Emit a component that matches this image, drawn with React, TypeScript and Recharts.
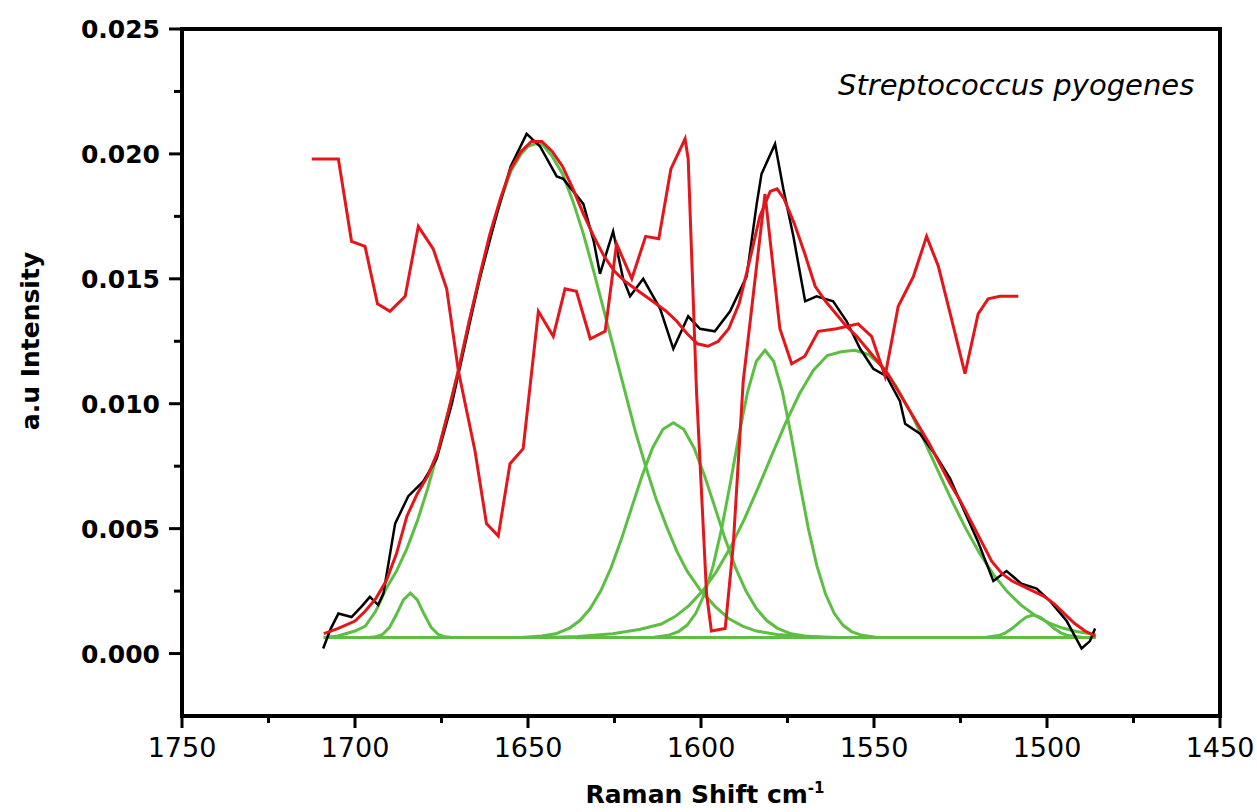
import { LineChart, Line, XAxis, YAxis, ReferenceArea } from 'recharts';

type Pt = [number, number];

// x = Raman shift (cm-1), y = intensity (a.u.)
const rawSpectrum: Pt[] = [
  [1709.2, 0.0002], [1707, 0.001], [1704.8, 0.0016], [1701, 0.00146], [1698, 0.0019],
  [1695.7, 0.00227], [1693.3, 0.00195], [1691.8, 0.0024], [1688.4, 0.0052], [1684.6, 0.0063],
  [1680.2, 0.0069], [1676.4, 0.0078], [1672, 0.01], [1668, 0.0125], [1664, 0.015],
  [1659, 0.0176], [1655, 0.0195], [1650.4, 0.0208], [1646.5, 0.0203], [1641.7, 0.0191],
  [1639.8, 0.019], [1634, 0.018], [1631, 0.0165], [1629.2, 0.0152], [1625.4, 0.0169],
  [1622.5, 0.015], [1620.5, 0.0143], [1616.7, 0.015], [1611.8, 0.0138], [1608, 0.0122],
  [1603.7, 0.0135], [1600.3, 0.013], [1596, 0.0129], [1591.6, 0.0137], [1586.8, 0.0151],
  [1583.9, 0.018], [1582.5, 0.0192], [1578.6, 0.0204], [1576.2, 0.0186], [1573.3, 0.0167],
  [1569.9, 0.0141], [1566.6, 0.0143], [1561.8, 0.0141], [1557.9, 0.0133], [1554, 0.0122],
  [1550.2, 0.0114], [1546.4, 0.0111], [1542.5, 0.0101], [1541, 0.0092], [1536.7, 0.0088],
  [1532, 0.0079], [1528, 0.007], [1524.2, 0.0058], [1520, 0.0045], [1515.5, 0.0029],
  [1511.7, 0.0033], [1507.4, 0.0028], [1503, 0.0026], [1499.1, 0.0021], [1494.3, 0.0013],
  [1490, 0.0002], [1487.6, 0.0005], [1486.1, 0.001],
];

const fitCurve: Pt[] = [
  [1709, 0.0008], [1705, 0.001], [1700, 0.0013], [1697, 0.0017], [1694, 0.0022],
  [1691, 0.0029], [1688, 0.004], [1685, 0.0055], [1682, 0.0064], [1679, 0.0071],
  [1676, 0.0081], [1673, 0.0097], [1670, 0.0114], [1667, 0.0133], [1664, 0.0151],
  [1661, 0.0168], [1658, 0.0182], [1655, 0.0194], [1652, 0.0201], [1649, 0.0205],
  [1646, 0.0205], [1643, 0.0201], [1640, 0.0195], [1637, 0.0186], [1634, 0.0176],
  [1631, 0.0167], [1628, 0.0159], [1625, 0.0153], [1622, 0.0149], [1619, 0.0146],
  [1616, 0.0143], [1613, 0.014], [1610, 0.0137], [1607, 0.0133], [1604, 0.0128],
  [1601, 0.0124], [1598, 0.0123], [1595, 0.0125], [1592, 0.013], [1589, 0.014],
  [1586, 0.0157], [1583, 0.0175], [1580, 0.0185], [1578, 0.0186], [1576, 0.0182],
  [1573, 0.0172], [1570, 0.016], [1567, 0.0147], [1564, 0.0141], [1561, 0.0136],
  [1558, 0.0131], [1555, 0.0127], [1552, 0.0122], [1549, 0.0117], [1546, 0.0112],
  [1543, 0.0105], [1540, 0.0098], [1537, 0.0091], [1534, 0.0084], [1531, 0.0076],
  [1528, 0.0068], [1525, 0.0061], [1522, 0.0053], [1519, 0.0045], [1516, 0.0037],
  [1513, 0.0032], [1510, 0.0029], [1507, 0.0027], [1504, 0.0025], [1501, 0.0023],
  [1498, 0.002], [1495, 0.0016], [1492, 0.0012], [1489, 0.0009], [1486, 0.0007],
];

const derivCurve: Pt[] = [
  [1712.5, 0.0198], [1704.8, 0.0198], [1701, 0.0165], [1697.1, 0.0163], [1693.5, 0.014],
  [1689.9, 0.0137], [1685.5, 0.0143], [1681.7, 0.0171], [1677.4, 0.0162], [1673.5, 0.0146],
  [1670.1, 0.0113], [1665.3, 0.0081], [1662, 0.0052], [1658.6, 0.0047], [1655.2, 0.0076],
  [1651.4, 0.0082], [1647, 0.0137], [1642.7, 0.0127], [1639.3, 0.0146], [1636, 0.0145],
  [1632, 0.0126], [1627.7, 0.0129], [1624.4, 0.0164], [1620, 0.015], [1616, 0.0167],
  [1612.2, 0.0166], [1608.7, 0.0194], [1604.6, 0.0206], [1603.7, 0.0198], [1601.3, 0.0105],
  [1598.4, 0.0024], [1597, 0.0009], [1593, 0.001], [1590.7, 0.0043], [1587.8, 0.0109],
  [1581.5, 0.0184], [1577.2, 0.013], [1573.8, 0.0116], [1570, 0.0119], [1566.1, 0.0129],
  [1560.8, 0.013], [1554.6, 0.0132], [1550.7, 0.0127], [1546.8, 0.0111], [1543, 0.0139],
  [1538.6, 0.0151], [1534.8, 0.0167], [1531.4, 0.0155], [1527.6, 0.0134], [1523.7, 0.0112],
  [1519.9, 0.0136], [1517, 0.0142], [1513.6, 0.0143], [1508.3, 0.0143],
];

// fitted component peaks (green)
const peak1684: Pt[] = [
  [1709, 0.00064], [1696, 0.00064], [1694, 0.00067], [1692, 0.00077], [1690, 0.00105],
  [1688, 0.00157], [1686, 0.00215], [1684, 0.00242], [1682, 0.00215], [1680, 0.00157],
  [1678, 0.00105], [1676, 0.00077], [1674, 0.00067], [1672, 0.00064], [1486, 0.00064],
];

const peak1648: Pt[] = [
  [1709, 0.00064], [1705, 0.0007], [1700, 0.0009], [1697, 0.0011], [1694, 0.0017],
  [1691, 0.0026], [1688, 0.0033], [1685, 0.0042], [1682, 0.0053], [1679, 0.0066],
  [1676, 0.0081], [1673, 0.0097], [1670, 0.0114], [1667, 0.0133], [1664, 0.015],
  [1661, 0.0167], [1658, 0.0181], [1655, 0.0193], [1652, 0.02], [1650, 0.0203],
  [1648, 0.0204], [1646, 0.0204], [1643, 0.0199], [1640, 0.0192], [1637, 0.0181],
  [1634, 0.0168], [1631, 0.0153], [1628, 0.0137], [1625, 0.0121], [1622, 0.0105],
  [1619, 0.0089], [1616, 0.0075], [1613, 0.0062], [1610, 0.0051], [1607, 0.0041],
  [1604, 0.0033], [1600, 0.0025], [1596, 0.0019], [1592, 0.0014], [1588, 0.0011],
  [1584, 0.0009], [1578, 0.00076], [1570, 0.00068], [1560, 0.00064], [1486, 0.00064],
];

const peak1608: Pt[] = [
  [1709, 0.00064], [1652, 0.00064], [1646, 0.0007], [1642, 0.00079], [1638, 0.00102],
  [1635, 0.00132], [1632, 0.0018], [1629, 0.0025], [1626, 0.00343], [1623, 0.00458],
  [1620, 0.00586], [1617, 0.00713], [1614, 0.00823], [1611, 0.00898], [1608, 0.00924],
  [1605, 0.00898], [1602, 0.00823], [1599, 0.00713], [1596, 0.00586], [1593, 0.00458],
  [1590, 0.00343], [1587, 0.0025], [1584, 0.0018], [1581, 0.00132], [1578, 0.00102],
  [1574, 0.00079], [1570, 0.0007], [1564, 0.00064], [1486, 0.00064],
];

const peak1582: Pt[] = [
  [1709, 0.00064], [1614, 0.00064], [1609.5, 0.00073], [1606.5, 0.00088], [1604, 0.00114],
  [1601.5, 0.00161], [1599, 0.00238], [1596.5, 0.00351], [1594, 0.00502], [1591.5, 0.00684],
  [1589, 0.00877], [1586.5, 0.0105], [1584, 0.0117], [1581.5, 0.01214], [1579, 0.0117],
  [1576.5, 0.0105], [1574, 0.00877], [1571.5, 0.00684], [1569, 0.00502], [1566.5, 0.00351],
  [1564, 0.00238], [1561.5, 0.00161], [1559, 0.00114], [1556.5, 0.00088], [1553.5, 0.00073],
  [1549, 0.00064], [1486, 0.00064],
];

const peak1556: Pt[] = [
  [1709, 0.00064], [1645, 0.00064], [1635.5, 0.00068], [1625.5, 0.00079], [1617.5, 0.00097],
  [1611.5, 0.00118], [1607.5, 0.00148], [1603.5, 0.00192], [1599.5, 0.00251], [1595.5, 0.00329],
  [1591.5, 0.00424], [1587.5, 0.00537], [1583.5, 0.00663], [1579.5, 0.00795], [1575.5, 0.00924],
  [1571.5, 0.01041], [1567.5, 0.01134], [1563.5, 0.01193], [1559.5, 0.01208], [1555.5, 0.01214],
  [1551.5, 0.01197], [1547.5, 0.01147], [1543.5, 0.01068], [1539.5, 0.00967], [1535.5, 0.00852],
  [1531.5, 0.00731], [1527.5, 0.00612], [1523.5, 0.00501], [1519.5, 0.00402], [1515.5, 0.00317],
  [1511.5, 0.00248], [1507.5, 0.00194], [1503.5, 0.00153], [1499.5, 0.00123], [1495.5, 0.00102],
  [1491.5, 0.00088], [1486, 0.00076],
];

const peak1504: Pt[] = [
  [1709, 0.00064], [1518, 0.00064], [1514, 0.00072], [1512, 0.00083], [1510, 0.00101],
  [1508, 0.00125], [1506, 0.00146], [1504, 0.00154], [1502, 0.00146], [1500, 0.00125],
  [1498, 0.00101], [1496, 0.00083], [1494, 0.00072], [1490, 0.00065], [1486, 0.00064],
];

const xTicks = [1450, 1475, 1500, 1525, 1550, 1575, 1600, 1625, 1650, 1675, 1700, 1725, 1750];
const yTicks = [0, 0.0025, 0.005, 0.0075, 0.01, 0.0125, 0.015, 0.0175, 0.02, 0.0225, 0.025];

const W = 1257;
const H = 812;
const MARGIN = { top: 29, right: 37, left: 0, bottom: 0 };
const Y_AXIS_W = 182;
const X_AXIS_H = 96;
const AXIS_Y = H - X_AXIS_H - MARGIN.bottom;
const AXIS_X = MARGIN.left + Y_AXIS_W;

const GREEN = '#5cbf44';
const RED = '#e3161c';
const INK = '#000';

const toRows = (pts: Pt[]) => pts.map(([x, y]) => ({ x, y }));

const greenPeaks = [peak1684, peak1648, peak1608, peak1582, peak1556, peak1504];

function XTick(props: any) {
  const { x, payload } = props;
  const v = payload.value as number;
  const major = v % 50 === 0;
  return (
    <g>
      <line x1={x} x2={x} y1={AXIS_Y} y2={AXIS_Y + (major ? 12 : 7)} stroke={INK} strokeWidth={3} />
      {major && (
        <text x={x} y={AXIS_Y + 41} textAnchor="middle" fontFamily="DejaVu Sans" fontSize={27} fill={INK}>
          {v}
        </text>
      )}
    </g>
  );
}

function YTick(props: any) {
  const { y, payload } = props;
  const v = payload.value as number;
  const major = Math.round(v * 10000) % 50 === 0;
  return (
    <g>
      <line x1={AXIS_X} x2={AXIS_X - (major ? 13 : 8)} y1={y} y2={y} stroke={INK} strokeWidth={3} />
      {major && (
        <text
          x={AXIS_X - 22}
          y={y}
          dy="0.36em"
          textAnchor="end"
          fontFamily="DejaVu Sans"
          fontWeight="bold"
          fontSize={25}
          fill={INK}
        >
          {v.toFixed(3)}
        </text>
      )}
    </g>
  );
}

export default function App() {
  return (
    <div style={{ position: 'absolute', left: 0, top: 0, width: W, height: H, background: '#fff' }}>
      <LineChart width={W} height={H} margin={MARGIN}>
        <XAxis
          type="number"
          dataKey="x"
          domain={[1450, 1750]}
          reversed
          ticks={xTicks}
          interval={0}
          tick={<XTick />}
          tickLine={false}
          axisLine={{ stroke: INK, strokeWidth: 4 }}
          height={X_AXIS_H}
          allowDataOverflow
        />
        <YAxis
          type="number"
          domain={[-0.0025, 0.025]}
          ticks={yTicks}
          interval={0}
          tick={<YTick />}
          tickLine={false}
          axisLine={{ stroke: INK, strokeWidth: 4 }}
          width={Y_AXIS_W}
          allowDataOverflow
        />
        <ReferenceArea
          x1={1750}
          x2={1450}
          y1={-0.0025}
          y2={0.025}
          fill="none"
          stroke={INK}
          strokeWidth={4}
          ifOverflow="visible"
        />
        {greenPeaks.map((pts, i) => (
          <Line
            key={`peak-${i}`}
            data={toRows(pts)}
            dataKey="y"
            type="linear"
            stroke={GREEN}
            strokeWidth={3}
            dot={false}
            isAnimationActive={false}
          />
        ))}
        <Line data={toRows(rawSpectrum)} dataKey="y" type="linear" stroke={INK} strokeWidth={2.5} dot={false} isAnimationActive={false} />
        <Line data={toRows(derivCurve)} dataKey="y" type="linear" stroke={RED} strokeWidth={3} dot={false} isAnimationActive={false} />
        <Line data={toRows(fitCurve)} dataKey="y" type="linear" stroke={RED} strokeWidth={3} dot={false} isAnimationActive={false} />
      </LineChart>

      <div
        style={{
          position: 'absolute',
          left: 838,
          top: 71,
          fontFamily: 'DejaVu Sans',
          fontStyle: 'italic',
          fontSize: 29,
          lineHeight: '29px',
          whiteSpace: 'nowrap',
          color: INK,
        }}
      >
        Streptococcus pyogenes
      </div>
      <div
        style={{
          position: 'absolute',
          left: 30,
          top: 341,
          transform: 'translate(-50%, -50%) rotate(-90deg)',
          fontFamily: 'DejaVu Sans',
          fontWeight: 'bold',
          fontSize: 25,
          whiteSpace: 'nowrap',
          color: INK,
        }}
      >
        a.u Intensity
      </div>
      <div
        style={{
          position: 'absolute',
          left: 705,
          top: 794,
          transform: 'translate(-50%, -50%)',
          fontFamily: 'DejaVu Sans',
          fontWeight: 'bold',
          fontSize: 25,
          whiteSpace: 'nowrap',
          color: INK,
        }}
      >
        Raman Shift cm<sup style={{ fontSize: 15 }}>-1</sup>
      </div>
    </div>
  );
}
